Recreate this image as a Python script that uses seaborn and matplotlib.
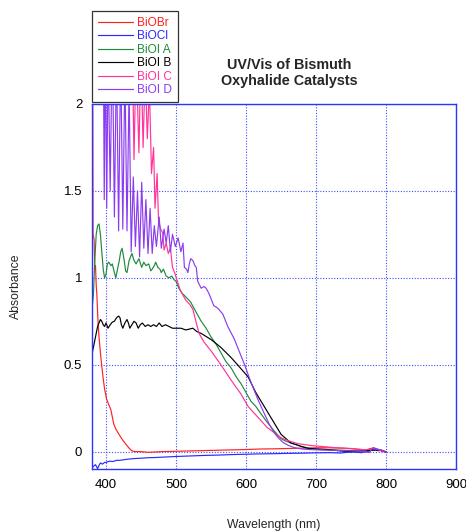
import matplotlib
matplotlib.use("Agg")
import matplotlib.pyplot as plt
from matplotlib.ticker import FormatStrFormatter
import pandas as pd
import seaborn as sns

sns.set_theme(style="white")
plt.rcParams["font.family"] = ["Liberation Sans", "DejaVu Sans"]

samples = ["BiOBr", "BiOCl", "BiOI A", "BiOI B", "BiOI C", "BiOI D"]
colors = ["#ff2020", "#2a2aff", "#1e8a3e", "#000000", "#ff3399", "#8b3cf0"]

# Absorbance spectra, wavelength in nm
biobr_nm = [380, 381, 381.5, 383, 384, 385, 386, 387, 388, 389, 390, 392, 394, 396, 398,
            401, 404, 407, 409, 411, 414, 417, 420, 424, 429, 433, 437, 442, 450, 460,
            470, 480, 500, 520, 540, 560, 580, 600, 620, 640, 660, 680, 700, 720, 740,
            755, 765, 772, 778, 783, 788, 793, 800]
biobr_abs = [2.4, 2.1, 1.25, 1.22, 1.05, 1.07, 0.96, 0.9, 0.8, 0.72, 0.66, 0.57, 0.49, 0.42, 0.36,
             0.3, 0.27, 0.24, 0.2, 0.16, 0.13, 0.11, 0.09, 0.065, 0.04, 0.02, 0.004, 0.0, 0.0, -0.004,
             -0.002, 0.0, 0.002, 0.004, 0.006, 0.008, 0.01, 0.012, 0.015, 0.016, 0.018, 0.02, 0.022, 0.022, 0.02,
             0.015, 0.012, 0.008, 0.018, 0.022, 0.01, 0.004, -0.004]

biocl_nm = [380, 382, 385, 388, 390, 392, 395, 398, 400, 405, 410, 415, 420, 430, 440, 450,
            460, 470, 480, 490, 500, 520, 540, 560, 580, 600, 620, 640, 660, 680, 700,
            720, 735, 745, 755, 765, 772, 778, 783, 788, 793, 800]
biocl_abs = [-0.095, -0.085, -0.075, -0.098, -0.08, -0.065, -0.072, -0.062, -0.062, -0.055, -0.057, -0.05,
             -0.05, -0.044, -0.04, -0.038, -0.035, -0.034, -0.032, -0.03, -0.028, -0.025, -0.022,
             -0.02, -0.017, -0.015, -0.013, -0.012, -0.01, -0.009, -0.007, -0.006, -0.008, -0.004,
             -0.002, -0.006, 0.0, 0.01, 0.016, 0.005, 0.008, -0.004]

bioia_nm = [380, 382, 384, 386, 388, 390, 392, 394, 396, 398, 400, 402, 404, 407, 409, 412,
            414, 416, 419, 421, 423, 426, 428, 430, 433, 437, 440, 443, 447, 451, 454, 457,
            461, 464, 466, 469, 471, 474, 477, 479, 482, 486, 490, 494, 497, 500, 504, 509,
            514, 521, 529, 536, 543, 550, 557, 564, 571, 579, 586, 593, 600, 607, 614, 621,
            630, 640, 650, 657, 664, 672, 679, 690, 703, 726, 750, 765, 774, 783, 790, 800]
bioia_abs = [0.82, 0.9, 1.1, 1.25, 1.3, 1.31, 1.25, 1.15, 1.05, 1.0, 1.02, 1.08, 1.09, 1.07, 1.08, 1.03,
             1.0, 1.04, 1.1, 1.15, 1.17, 1.1, 1.04, 1.03, 1.1, 1.14, 1.1, 1.08, 1.11, 1.06, 1.09, 1.07,
             1.08, 1.04, 1.05, 1.07, 1.09, 1.06, 1.05, 1.03, 1.05, 1.01, 1.0, 1.01, 0.99, 0.98, 0.94, 0.91,
             0.89, 0.86, 0.8, 0.75, 0.71, 0.66, 0.62, 0.57, 0.52, 0.48, 0.43, 0.39, 0.34, 0.29, 0.26, 0.22,
             0.17, 0.12, 0.075, 0.06, 0.05, 0.04, 0.03, 0.02, 0.012, 0.01, 0.006, 0.005, 0.0, 0.02, 0.012, -0.003]

bioib_nm = [380, 382, 385, 388, 390, 392, 394, 396, 398, 400, 403, 406, 409, 412, 415, 418,
            420, 422, 424, 427, 430, 432, 434, 437, 440, 443, 446, 449, 452, 456, 460, 464,
            468, 472, 476, 480, 485, 490, 495, 500, 507, 514, 524, 530, 536, 550, 564, 579,
            590, 603, 614, 626, 638, 650, 664, 679, 689, 716, 740, 757, 774, 789, 800]
bioib_abs = [0.56, 0.6, 0.66, 0.72, 0.74, 0.76, 0.75, 0.73, 0.72, 0.74, 0.71, 0.73, 0.745, 0.75, 0.77, 0.78,
             0.77, 0.73, 0.71, 0.74, 0.76, 0.74, 0.71, 0.73, 0.75, 0.74, 0.71, 0.73, 0.74, 0.72, 0.73, 0.72,
             0.73, 0.72, 0.74, 0.72, 0.73, 0.72, 0.71, 0.71, 0.71, 0.70, 0.71, 0.69, 0.68, 0.645, 0.6, 0.54,
             0.49, 0.43, 0.34, 0.26, 0.18, 0.1, 0.05, 0.03, 0.018, 0.012, 0.002, 0.0, 0.005, 0.01, 0.0]

bioic_nm = [380, 437, 440, 443, 447, 450, 453, 456, 459, 462, 465, 468, 470, 473, 475, 478,
            481, 483, 486, 489, 492, 495, 498, 502, 506, 510, 514, 519, 524, 529, 533, 540,
            550, 564, 579, 593, 603, 612, 621, 630, 640, 650, 660, 674, 693, 707, 736, 750,
            770, 783, 790, 800]
bioic_abs = [2.5, 2.5, 1.68, 2.3, 1.72, 2.3, 1.75, 2.2, 1.8, 2.1, 1.6, 1.75, 1.4, 1.6, 1.33, 1.28,
             1.26, 1.16, 1.2, 1.14, 1.17, 1.06, 1.03, 0.98, 0.93, 0.9, 0.87, 0.85, 0.82, 0.74, 0.68, 0.63,
             0.58, 0.5, 0.41, 0.33, 0.26, 0.22, 0.18, 0.14, 0.11, 0.08, 0.063, 0.046, 0.035, 0.03, 0.02, 0.018,
             0.01, 0.02, 0.01, -0.005]

bioid_nm = [380, 396, 397.5, 399, 401, 403, 406, 409, 412, 415, 418, 421, 424, 427, 430, 433,
            436, 439, 442, 445, 448, 451, 454, 457, 460, 463, 466, 469, 472, 476, 479, 483,
            486, 489, 492, 495, 499, 503, 507, 510, 512, 515, 517, 519, 521, 524, 527, 529,
            531, 536, 540, 543, 547, 551, 554, 558, 561, 567, 574, 583, 590, 597, 607, 617,
            626, 633, 640, 647, 654, 661, 669, 680, 690, 705, 720, 735, 750, 760, 770, 776,
            781, 786, 791, 795, 800]
bioid_abs = [2.5, 2.5, 1.45, 2.4, 1.40, 2.3, 1.5, 2.4, 1.35, 2.3, 1.27, 2.3, 1.28, 2.2, 1.27, 2.1,
             1.15, 1.58, 1.18, 1.5, 1.12, 1.55, 1.17, 1.45, 1.14, 1.4, 1.14, 1.3, 1.18, 1.35, 1.17, 1.28,
             1.2, 1.3, 1.15, 1.25, 1.18, 1.23, 1.15, 1.2, 1.06, 1.05, 1.03, 1.08, 1.11, 1.10, 1.07, 1.06,
             0.98, 0.94, 0.95, 0.94, 0.91, 0.87, 0.84, 0.83, 0.82, 0.79, 0.72, 0.65, 0.58, 0.51, 0.40, 0.30,
             0.22, 0.16, 0.11, 0.075, 0.05, 0.035, 0.023, 0.015, 0.012, 0.01, 0.008, 0.006, 0.004, 0.002, 0.0, -0.005,
             0.02, 0.015, 0.01, 0.008, -0.005]

series = [(biobr_nm, biobr_abs), (biocl_nm, biocl_abs), (bioia_nm, bioia_abs),
          (bioib_nm, bioib_abs), (bioic_nm, bioic_abs), (bioid_nm, bioid_abs)]
frames = [pd.DataFrame({"Wavelength": nm, "Absorbance": a, "Sample": name})
          for name, (nm, a) in zip(samples, series)]
df = pd.concat(frames, ignore_index=True)

blue = "#2b35ff"
fig = plt.figure(figsize=(4.66, 5.31), dpi=100)
ax = fig.add_axes([92 / 466, 1 - 469 / 531, (456 - 92) / 466, (469 - 104) / 531])

sns.lineplot(data=df, x="Wavelength", y="Absorbance", hue="Sample", hue_order=samples,
             palette=colors, estimator=None, sort=False, linewidth=0.85, ax=ax)

ax.set_xlim(380, 900)
ax.set_ylim(-0.1, 2.0)
ax.set_xticks([400, 500, 600, 700, 800, 900])
ax.set_yticks([0, 0.5, 1, 1.5, 2])
ax.yaxis.set_major_formatter(FormatStrFormatter("%g"))
ax.grid(True, color="#3f4cff", linestyle=(0, (1, 1.5)), linewidth=0.8)
for s in ax.spines.values():
    s.set_color(blue)
    s.set_linewidth(1.0)
ax.tick_params(direction="in", color=blue, length=4, width=1, labelcolor="black",
               labelsize=9.5, pad=7)

ax.set_xlabel("Wavelength (nm)", fontsize=8.8, va="center")
ax.xaxis.set_label_coords(0.5, (469 - 525) / 365)
ax.set_ylabel("Absorbance", fontsize=8.8, va="center")
ax.yaxis.set_label_coords((16 - 92) / 364, 0.5)

handles, labels = ax.get_legend_handles_labels()
ax.get_legend().remove()
leg = fig.legend(handles, labels, loc="upper left", bbox_to_anchor=(92 / 466, 1 - 11 / 531),
                 fontsize=8.6, frameon=True, fancybox=False, edgecolor="black",
                 handlelength=2.9, handletextpad=0.35, labelspacing=0.12,
                 borderpad=0.5, borderaxespad=0)
leg.get_frame().set_linewidth(0.9)
for t, c in zip(leg.get_texts(), colors):
    t.set_color(c)

fig.text(289 / 466, 1 - 73 / 531, "UV/Vis of Bismuth\nOxyhalide Catalysts",
         ha="center", va="center", fontsize=10.4, fontweight="bold", linespacing=1.15)

fig.savefig("out.png", dpi=100)
